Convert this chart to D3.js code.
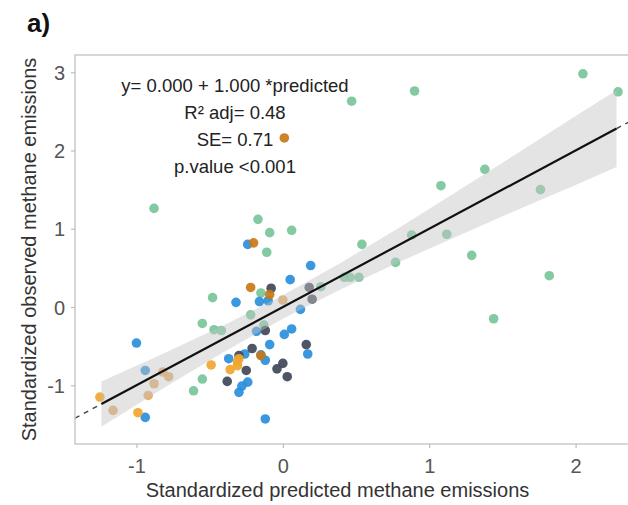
<!DOCTYPE html>
<html>
<head>
<meta charset="utf-8">
<script src="https://cdn.jsdelivr.net/npm/d3@7/dist/d3.min.js"></script>
<style>
  html, body { margin: 0; padding: 0; background: #fff; }
  svg { display: block; font-family: "Liberation Sans", Arial, Helvetica, sans-serif; }
</style>
</head>
<body>
<svg id="chart" width="628" height="505"></svg>
<script>
// Standardized predicted (x) vs observed (y) methane emissions, one pair of arrays per group
const greenPred = [-0.88, -0.17, -0.09, 0.06, -0.11, -0.48, -0.55, -0.47, -0.42, -0.22, -0.15, -0.13, -0.55, -0.61,
                   0.47, 0.90, 2.05, 2.29, 1.38, 1.08, 1.76, 0.54, 1.12, 0.88, 1.29, 0.77, 1.82, 0.42, 0.46, 0.52, 1.44, 0.26];
const greenObs  = [1.26, 1.12, 0.95, 0.98, 0.70, 0.12, -0.21, -0.29, -0.30, -0.10, 0.18, -0.23, -0.92, -1.07,
                   2.63, 2.76, 2.98, 2.75, 1.76, 1.55, 1.50, 0.80, 0.93, 0.92, 0.66, 0.57, 0.40, 0.38, 0.38, 0.38, -0.15, 0.26];

const bluePred = [-1.00, -0.94, -0.94, -0.24, 0.19, 0.05, -0.32, -0.16, -0.10, 0.12, -0.18, 0.01, 0.06, -0.09,
                  -0.37, -0.26, -0.12, 0.17, -0.24, -0.28, -0.30, -0.12, -0.15];
const blueObs  = [-0.46, -0.81, -1.41, 0.80, 0.53, 0.35, 0.06, 0.07, 0.08, -0.03, -0.31, -0.35, -0.28, -0.48,
                  -0.66, -0.60, -0.68, -0.60, -0.96, -1.01, -1.09, -1.43, -0.61];

const navyPred = [-0.08, 0.18, 0.20, -0.12, -0.21, 0.16, -0.30, -0.25, -0.38, -0.04, 0.00, 0.03];
const navyObs  = [0.24, 0.25, 0.10, -0.30, -0.53, -0.48, -0.62, -0.81, -0.95, -0.79, -0.72, -0.89];

const amberPred = [-0.20, -0.22, -0.09, 0.01, -0.15];
const amberObs  = [0.82, 0.25, 0.16, 2.16, -0.62];

const goldPred = [-1.25, -0.99, -0.49, -0.36, -0.30, -0.31, -0.31];
const goldObs  = [-1.15, -1.35, -0.74, -0.80, -0.66, -0.70, -0.75];

const tanPred = [-1.16, -0.92, -0.88, -0.82, -0.78, 0.00];
const tanObs  = [-1.32, -1.13, -0.98, -0.83, -0.89, 0.09];

// Fitted line: intercept and slope
const intercept = 0.000;
const slope = 1.000;

// Confidence band around the fit
const bandX     = [-1.24, -0.8, -0.4, 0.0, 0.4, 0.8, 1.2, 1.6, 2.0, 2.28];
const bandLower = [-1.53, -1.02, -0.57, -0.15, 0.23, 0.58, 0.91, 1.24, 1.56, 1.79];
const bandUpper = [-0.95, -0.58, -0.23, 0.15, 0.57, 1.02, 1.49, 1.96, 2.44, 2.77];

const xTicks = [-1, 0, 1, 2];
const yTicks = [-1, 0, 1, 2, 3];

const statLines = ["y= 0.000 + 1.000 *predicted", "R² adj= 0.48", "SE= 0.71", "p.value <0.001"];

const groups = [
  { pred: greenPred, obs: greenObs, color: "#78c59b" },
  { pred: bluePred,  obs: blueObs,  color: "#2a8edb" },
  { pred: navyPred,  obs: navyObs,  color: "#3f4859" },
  { pred: amberPred, obs: amberObs, color: "#c97815" },
  { pred: goldPred,  obs: goldObs,  color: "#f0a630" },
  { pred: tanPred,   obs: tanObs,   color: "#e3a862" }
];

const svg = d3.select("#chart");
const panel = { left: 75, top: 55, right: 640, bottom: 444 };

const x = d3.scaleLinear().domain([-1.42, 2.44]).range([panel.left, panel.right]);
const y = d3.scaleLinear().domain([-1.75, 3.22]).range([panel.bottom, panel.top]);

svg.append("defs").append("clipPath").attr("id", "clip")
  .append("rect")
  .attr("x", panel.left).attr("y", panel.top)
  .attr("width", panel.right - panel.left).attr("height", panel.bottom - panel.top);

const plot = svg.append("g").attr("clip-path", "url(#clip)");

// Points
groups.forEach(g => {
  plot.append("g").selectAll("circle")
    .data(g.pred.map((p, i) => [p, g.obs[i]]))
    .join("circle")
    .attr("cx", d => x(d[0]))
    .attr("cy", d => y(d[1]))
    .attr("r", 4.8)
    .attr("fill", g.color)
    .attr("fill-opacity", 0.92);
});

// Confidence band, drawn over the points
const bandData = bandX.map((v, i) => ({ x: v, lo: bandLower[i], hi: bandUpper[i] }));
plot.append("path")
  .datum(bandData)
  .attr("d", d3.area().x(d => x(d.x)).y0(d => y(d.lo)).y1(d => y(d.hi)))
  .attr("fill", "#c4c4c4")
  .attr("fill-opacity", 0.45);

// Fitted line: dashed across the whole range, solid across the data range
const fit = v => intercept + slope * v;
const xMin = x.domain()[0], xMax = x.domain()[1];
const dataMin = bandX[0], dataMax = bandX[bandX.length - 1];
const lineGen = d3.line().x(d => x(d)).y(d => y(fit(d)));

plot.append("path")
  .attr("d", lineGen([xMin, dataMin]))
  .attr("stroke", "#444").attr("stroke-width", 1.4)
  .attr("stroke-dasharray", "5,5").attr("fill", "none");
plot.append("path")
  .attr("d", lineGen([dataMax, xMax]))
  .attr("stroke", "#444").attr("stroke-width", 1.4)
  .attr("stroke-dasharray", "5,5").attr("fill", "none");
plot.append("path")
  .attr("d", lineGen([dataMin, dataMax]))
  .attr("stroke", "#111").attr("stroke-width", 2.2).attr("fill", "none");

// Panel border
svg.append("rect")
  .attr("x", panel.left).attr("y", panel.top)
  .attr("width", panel.right - panel.left).attr("height", panel.bottom - panel.top)
  .attr("fill", "none").attr("stroke", "#c6c6c6").attr("stroke-width", 1.4);

// Axes (plain hyphen-minus on negative labels)
const fmt = d => String(d);
const xAxis = svg.append("g")
  .attr("transform", `translate(0,${panel.bottom})`)
  .call(d3.axisBottom(x).tickValues(xTicks).tickSize(4).tickPadding(6).tickFormat(fmt));
const yAxis = svg.append("g")
  .attr("transform", `translate(${panel.left},0)`)
  .call(d3.axisLeft(y).tickValues(yTicks).tickSize(4).tickPadding(6).tickFormat(fmt));

[xAxis, yAxis].forEach(a => {
  a.select(".domain").remove();
  a.selectAll(".tick line").attr("stroke", "#bdbdbd").attr("stroke-width", 1.2);
  a.selectAll(".tick text")
    .attr("fill", "#555")
    .style("font-size", "20px")
    .style("font-family", "'Liberation Sans', Arial, sans-serif");
});
xAxis.selectAll(".tick text").attr("dy", null).attr("y", 29);
yAxis.selectAll(".tick text").attr("dy", "0.36em");

// Axis titles
svg.append("text")
  .attr("x", (panel.left + 600) / 2)
  .attr("y", 497)
  .attr("text-anchor", "middle")
  .attr("fill", "#333")
  .style("font-size", "20px")
  .text("Standardized predicted methane emissions");

svg.append("text")
  .attr("transform", `translate(36,${(panel.top + panel.bottom) / 2}) rotate(-90)`)
  .attr("text-anchor", "middle")
  .attr("fill", "#333")
  .style("font-size", "20px")
  .text("Standardized observed methane emissions");

// Fit statistics
svg.append("g").selectAll("text")
  .data(statLines)
  .join("text")
  .attr("x", 235)
  .attr("y", (d, i) => 92 + i * 27)
  .attr("text-anchor", "middle")
  .attr("fill", "#222")
  .style("font-size", "18.5px")
  .text(d => d);

// Panel tag
svg.append("text")
  .attr("x", 27)
  .attr("y", 32)
  .attr("fill", "#111")
  .style("font-size", "26px")
  .style("font-weight", "bold")
  .text("a)");
</script>
</body>
</html>
